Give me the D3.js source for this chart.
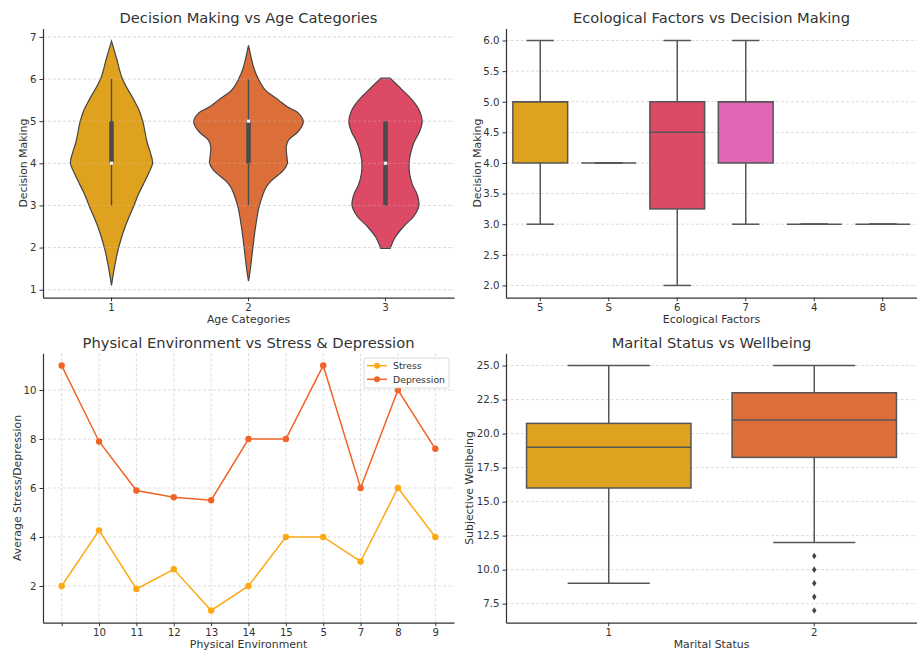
<!DOCTYPE html>
<html>
<head>
<meta charset="utf-8">
<script src="https://cdn.jsdelivr.net/npm/d3@7"></script>
<style>
  body { margin: 0; background: #fff; }
  text { font-family: 'DejaVu Sans', sans-serif; fill: #333; }
  .axis path, .axis line { stroke: #333; }
  .axis text { font-size: 10.2px; fill: #333; }
  .grid line { stroke: #d4d4d4; stroke-dasharray: 3,2; stroke-width: 0.8; }
</style>
</head>
<body>
<svg id="chart" width="917" height="652"></svg>
<script>
// ---- data ----
const ageCategories = ['1', '2', '3']
// [decision making value, relative density]
const violinAge1 = [[1.1, 0], [1.5, 0.05], [2, 0.13], [2.5, 0.25], [3, 0.41], [3.29, 0.5], [3.5, 0.58], [3.76, 0.675], [4, 0.75], [4.25, 0.71], [4.5, 0.65], [5, 0.57], [5.27, 0.5], [5.5, 0.41], [6, 0.2], [6.5, 0.09], [6.9, 0]]
const violinAge2 = [[1.2, 0], [1.5, 0.035], [2, 0.08], [2.5, 0.13], [3, 0.2], [3.45, 0.33], [3.6, 0.43], [3.84, 0.64], [4, 0.71], [4.16, 0.7], [4.4, 0.69], [4.55, 0.73], [4.72, 0.88], [4.87, 0.97], [5, 1.0], [5.19, 0.91], [5.35, 0.7], [5.5, 0.55], [5.75, 0.3], [6, 0.18], [6.25, 0.1], [6.5, 0.05], [6.8, 0]]
const violinAge3 = [[1.98, 0.085], [2.25, 0.18], [2.5, 0.33], [2.75, 0.52], [3, 0.61], [3.25, 0.58], [3.5, 0.49], [3.75, 0.44], [4, 0.43], [4.25, 0.46], [4.5, 0.52], [4.75, 0.62], [5, 0.67], [5.25, 0.62], [5.5, 0.49], [5.75, 0.3], [6.02, 0.085]]
const violinQ1 = [4, 4, 3]
const violinQ3 = [5, 5, 5]
const violinMedian = [4, 5, 4]
const violinLow = [3, 3, 3]
const violinHigh = [6, 6, 5]

const ecoCategories = ['5', 'S', '6', '7', '4', '8']
const ecoQ1 = [4, 4, 3.25, 4, 3, 3]
const ecoQ3 = [5, 4, 5, 5, 3, 3]
const ecoMedian = [5, 4, 4.5, 5, 3, 3]
const ecoLow = [3, 4, 2, 3, 3, 3]
const ecoHigh = [6, 4, 6, 6, 3, 3]

const envCategories = ['', '10', '11', '12', '13', '14', '15', '5', '7', '8', '9']
const stressValues = [2, 4.27, 1.88, 2.68, 1, 2, 4, 4, 3, 6, 4]
const depressionValues = [11, 7.9, 5.9, 5.62, 5.5, 8, 8, 11, 6, 10, 7.6]

const maritalCategories = ['1', '2']
const maritalQ1 = [16, 18.25]
const maritalQ3 = [20.75, 23]
const maritalMedian = [19, 21]
const maritalLow = [9, 12]
const maritalHigh = [25, 25]
const maritalOutliers = [[], [11, 10, 9, 8, 7]]

const palette = ['#dfa21f', '#dc6e3a', '#dc4a66', '#e066b5', '#a55fbf', '#7b6cc4']
const stressColor = '#fca914'
const depressionColor = '#f06428'
const edgeColor = '#555'

const svg = d3.select('#chart')

const panelA = { left: 43, right: 454, top: 28.5, bottom: 297.7 }
const panelB = { left: 506, right: 917, top: 28.5, bottom: 297.7 }
const panelC = { left: 43, right: 454, top: 353.3, bottom: 622.7 }
const panelD = { left: 506, right: 917, top: 353.3, bottom: 622.7 }

function frame(p, x, y, yTicks, fmt, title, xLabel, yLabel, yLabelX) {
  const g = svg.append('g')
  g.append('g')
    .attr('class', 'grid')
    .selectAll('line')
    .data(yTicks)
    .enter()
    .append('line')
    .attr('x1', p.left)
    .attr('x2', p.right)
    .attr('y1', d => y(d))
    .attr('y2', d => y(d))

  const layer = g.append('g')

  g.append('g')
    .attr('class', 'axis')
    .attr('transform', 'translate(' + p.left + ',0)')
    .call(d3.axisLeft(y).tickValues(yTicks).tickFormat(fmt).tickSize(3.5).tickSizeOuter(0).tickPadding(3))
  g.append('g')
    .attr('class', 'axis')
    .attr('transform', 'translate(0,' + p.bottom + ')')
    .call(d3.axisBottom(x).tickSize(3.5).tickSizeOuter(0).tickPadding(3))
  g.selectAll('.axis .domain').attr('stroke-width', 1.2)

  g.append('text')
    .attr('x', (p.left + p.right) / 2)
    .attr('y', p.top - 5.5)
    .attr('text-anchor', 'middle')
    .style('font-size', '14.7px')
    .text(title)
  g.append('text')
    .attr('x', (p.left + p.right) / 2)
    .attr('y', p.bottom + 25)
    .attr('text-anchor', 'middle')
    .style('font-size', '10.9px')
    .text(xLabel)
  g.append('text')
    .attr('transform', 'translate(' + yLabelX + ',' + (p.top + p.bottom) / 2 + ') rotate(-90)')
    .attr('text-anchor', 'middle')
    .style('font-size', '10.9px')
    .text(yLabel)
  return layer
}

// ---- panel A: violins ----
const xA = d3.scaleBand().domain(ageCategories).range([panelA.left, panelA.right])
const yA = d3.scaleLinear().domain([0.81, 7.2]).range([panelA.bottom, panelA.top])
const layerA = frame(panelA, xA, yA, [1, 2, 3, 4, 5, 6, 7], d3.format('d'),
  'Decision Making vs Age Categories', 'Age Categories', 'Decision Making', 27)
const widthA = d3.scaleLinear().domain([0, 1]).range([0, xA.bandwidth() * 0.4])
const violins = [violinAge1, violinAge2, violinAge3]

violins.forEach(function(dens, i) {
  const cx = xA(ageCategories[i]) + xA.bandwidth() / 2
  const area = d3.area()
    .curve(d3.curveCatmullRom)
    .y(d => yA(d[0]))
    .x0(d => cx - widthA(d[1]))
    .x1(d => cx + widthA(d[1]))
  layerA.append('path')
    .attr('d', area(dens) + 'Z')
    .attr('fill', palette[i])
    .attr('stroke', '#444')
    .attr('stroke-width', 1.2)
  layerA.append('line')
    .attr('x1', cx).attr('x2', cx)
    .attr('y1', yA(violinLow[i])).attr('y2', yA(violinHigh[i]))
    .attr('stroke', '#4a4a4a').attr('stroke-width', 1.4)
  layerA.append('line')
    .attr('x1', cx).attr('x2', cx)
    .attr('y1', yA(violinQ1[i])).attr('y2', yA(violinQ3[i]))
    .attr('stroke', '#4a4a4a').attr('stroke-width', 4.5)
  layerA.append('rect')
    .attr('x', cx - 1.6).attr('y', yA(violinMedian[i]) - 1.6)
    .attr('width', 3.2).attr('height', 3.2)
    .attr('fill', '#fff').attr('stroke', '#999').attr('stroke-width', 0.4)
})
layerA.append('g')
  .attr('class', 'grid')
  .attr('opacity', 0.35)
  .selectAll('line')
  .data([1, 2, 3, 4, 5, 6, 7])
  .enter()
  .append('line')
  .attr('x1', panelA.left).attr('x2', panelA.right)
  .attr('y1', d => yA(d)).attr('y2', d => yA(d))

// ---- box plot helper ----
function boxes(layer, x, y, cats, q1, q3, med, lo, hi, colors, outliers) {
  const bw = x.bandwidth() * 0.8
  cats.forEach(function(c, i) {
    const cx = x(c) + x.bandwidth() / 2
    const g = layer.append('g')
    g.append('line')
      .attr('x1', cx).attr('x2', cx)
      .attr('y1', y(lo[i])).attr('y2', y(q1[i]))
      .attr('stroke', edgeColor).attr('stroke-width', 1.5)
    g.append('line')
      .attr('x1', cx).attr('x2', cx)
      .attr('y1', y(q3[i])).attr('y2', y(hi[i]))
      .attr('stroke', edgeColor).attr('stroke-width', 1.5)
    ;[lo[i], hi[i]].forEach(function(v) {
      g.append('line')
        .attr('x1', cx - bw / 4).attr('x2', cx + bw / 4)
        .attr('y1', y(v)).attr('y2', y(v))
        .attr('stroke', edgeColor).attr('stroke-width', 1.5)
    })
    g.append('rect')
      .attr('x', cx - bw / 2)
      .attr('y', y(q3[i]))
      .attr('width', bw)
      .attr('height', Math.max(0, y(q1[i]) - y(q3[i])))
      .attr('fill', colors[i])
      .attr('stroke', edgeColor)
      .attr('stroke-width', 1.5)
    g.append('line')
      .attr('x1', cx - bw / 2).attr('x2', cx + bw / 2)
      .attr('y1', y(med[i])).attr('y2', y(med[i]))
      .attr('stroke', edgeColor).attr('stroke-width', 1.5)
    if (outliers) {
      g.selectAll('path.out')
        .data(outliers[i])
        .enter()
        .append('path')
        .attr('class', 'out')
        .attr('d', d => {
          const py = y(d)
          return 'M' + cx + ',' + (py - 3.3) + 'L' + (cx + 2.2) + ',' + py +
            'L' + cx + ',' + (py + 3.3) + 'L' + (cx - 2.2) + ',' + py + 'Z'
        })
        .attr('fill', '#444')
    }
  })
}

// ---- panel B ----
const xB = d3.scaleBand().domain(ecoCategories).range([panelB.left, panelB.right])
const yB = d3.scaleLinear().domain([1.8, 6.196]).range([panelB.bottom, panelB.top])
const layerB = frame(panelB, xB, yB, d3.range(2, 6.01, 0.5), d3.format('.1f'),
  'Ecological Factors vs Decision Making', 'Ecological Factors', 'Decision Making', 481)
boxes(layerB, xB, yB, ecoCategories, ecoQ1, ecoQ3, ecoMedian, ecoLow, ecoHigh, palette)

// ---- panel C: lines ----
const xC = d3.scalePoint().domain(envCategories).range([panelC.left, panelC.right]).padding(0.5)
const yC = d3.scaleLinear().domain([0.5, 11.5]).range([panelC.bottom, panelC.top])
const layerC = frame(panelC, xC, yC, [2, 4, 6, 8, 10], d3.format('d'),
  'Physical Environment vs Stress & Depression', 'Physical Environment', 'Average Stress/Depression', 20.5)
layerC.append('g')
  .attr('class', 'grid')
  .selectAll('line')
  .data(envCategories)
  .enter()
  .append('line')
  .attr('x1', d => xC(d)).attr('x2', d => xC(d))
  .attr('y1', panelC.top).attr('y2', panelC.bottom)

const series = [
  { name: 'Stress', values: stressValues, color: stressColor },
  { name: 'Depression', values: depressionValues, color: depressionColor },
]
const line = d3.line()
  .x((d, i) => xC(envCategories[i]))
  .y(d => yC(d))
series.forEach(function(s) {
  layerC.append('path')
    .attr('d', line(s.values))
    .attr('fill', 'none')
    .attr('stroke', s.color)
    .attr('stroke-width', 1.5)
  layerC.selectAll(null)
    .data(s.values)
    .enter()
    .append('circle')
    .attr('cx', (d, i) => xC(envCategories[i]))
    .attr('cy', d => yC(d))
    .attr('r', 3.2)
    .attr('fill', s.color)
})

// legend
const legend = svg.append('g').attr('transform', 'translate(364,358)')
legend.append('rect')
  .attr('width', 85).attr('height', 30)
  .attr('rx', 2)
  .attr('fill', '#fff').attr('fill-opacity', 0.8)
  .attr('stroke', '#d0d0d0').attr('stroke-width', 0.8)
series.forEach(function(s, i) {
  const ly = 7.7 + i * 13.6
  legend.append('line')
    .attr('x1', 3).attr('x2', 23)
    .attr('y1', ly).attr('y2', ly)
    .attr('stroke', s.color).attr('stroke-width', 1.5)
  legend.append('circle')
    .attr('cx', 13).attr('cy', ly).attr('r', 3)
    .attr('fill', s.color)
  legend.append('text')
    .attr('x', 29).attr('y', ly + 3.3)
    .style('font-size', '9.3px')
    .text(s.name)
})

// ---- panel D ----
const xD = d3.scaleBand().domain(maritalCategories).range([panelD.left, panelD.right])
const yD = d3.scaleLinear().domain([6.1, 25.9]).range([panelD.bottom, panelD.top])
const layerD = frame(panelD, xD, yD, d3.range(7.5, 25.01, 2.5), d3.format('.1f'),
  'Marital Status vs Wellbeing', 'Marital Status', 'Subjective Wellbeing', 473)
boxes(layerD, xD, yD, maritalCategories, maritalQ1, maritalQ3, maritalMedian, maritalLow, maritalHigh, palette, maritalOutliers)
</script>
</body>
</html>
